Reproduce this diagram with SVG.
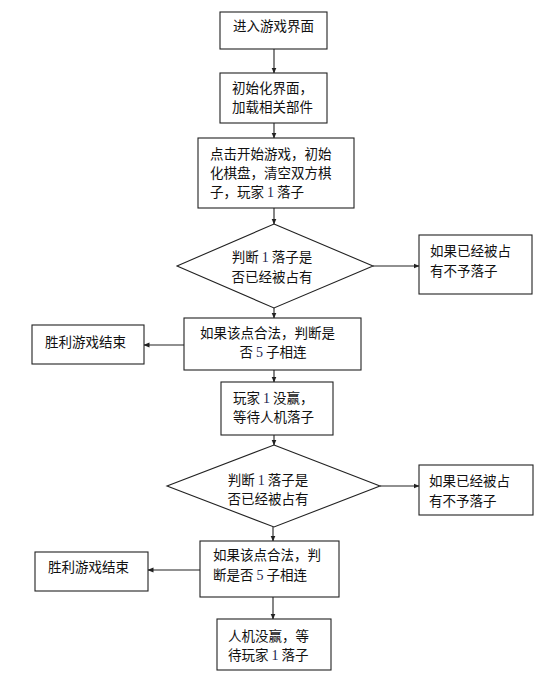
<svg xmlns="http://www.w3.org/2000/svg" width="546" height="678" viewBox="0 0 546 678">
<defs>
<style>
.box{fill:#fff;stroke:#222;stroke-width:1.1}
.t{font-family:"Noto Sans CJK SC","Noto Sans CJK JP",sans-serif;font-size:13.5px;fill:#111}
.n{font-family:"Liberation Serif",serif;font-size:14px;fill:#1a2450}
.c{text-anchor:middle}
.ln{stroke:#222;stroke-width:1.1;fill:none;marker-end:url(#ah)}
</style>
<marker id="ah" markerWidth="6" markerHeight="6" refX="5.5" refY="3" orient="auto" markerUnits="userSpaceOnUse">
<path d="M0,0.5 L6,3 L0,5.5 Z" fill="#222"/>
</marker>
</defs>
<rect width="546" height="678" fill="#fff"/>
<g id="connectors">
<line class="ln" x1="274" y1="49" x2="274" y2="73"/>
<line class="ln" x1="274" y1="123" x2="274" y2="138"/>
<line class="ln" x1="274" y1="208" x2="274" y2="224"/>
<line class="ln" x1="373" y1="266" x2="419" y2="266"/>
<line class="ln" x1="274" y1="308" x2="274" y2="318"/>
<line class="ln" x1="184" y1="345" x2="144" y2="345"/>
<line class="ln" x1="274" y1="370" x2="274" y2="382"/>
<line class="ln" x1="274" y1="435" x2="274" y2="445"/>
<line class="ln" x1="380" y1="486" x2="419" y2="486"/>
<line class="ln" x1="273" y1="527" x2="273" y2="541"/>
<line class="ln" x1="200" y1="570" x2="148" y2="570"/>
<line class="ln" x1="273" y1="597" x2="273" y2="619"/>
</g>
<g id="n1">
<rect class="box" x="220" y="12" width="107" height="37"/>
<text class="t c" x="273.5" y="31">进入游戏界面</text>
</g>
<g id="n2">
<rect class="box" x="220" y="73" width="107" height="50"/>
<text class="t" x="232" y="93">初始化界面，</text>
<text class="t" x="232" y="112">加载相关部件</text>
</g>
<g id="n3">
<rect class="box" x="198" y="138" width="156" height="70"/>
<text class="t" x="210" y="159">点击开始游戏，初始</text>
<text class="t" x="210" y="178">化棋盘，清空双方棋</text>
<text class="t" x="210" y="197">子，玩家 <tspan class="n">1</tspan> 落子</text>
</g>
<g id="d1">
<polygon class="box" points="274,224 373,266 274,308 177,266"/>
<text class="t c" x="272" y="262">判断 <tspan class="n">1</tspan> 落子是</text>
<text class="t c" x="272" y="282">否已经被占有</text>
</g>
<g id="r1">
<rect class="box" x="419" y="235" width="113" height="59"/>
<text class="t" x="430" y="256">如果已经被占</text>
<text class="t" x="430" y="276">有不予落子</text>
</g>
<g id="n4">
<rect class="box" x="184" y="318" width="177" height="52"/>
<text class="t" x="200" y="338">如果该点合法，判断是</text>
<text class="t c" x="273" y="357">否 <tspan class="n">5</tspan> 子相连</text>
</g>
<g id="l1">
<rect class="box" x="32" y="325" width="112" height="39"/>
<text class="t" x="45" y="347">胜利游戏结束</text>
</g>
<g id="n5">
<rect class="box" x="221" y="382" width="112" height="53"/>
<text class="t" x="233" y="403">玩家 <tspan class="n">1</tspan> 没赢，</text>
<text class="t" x="233" y="422">等待人机落子</text>
</g>
<g id="d2">
<polygon class="box" points="274,445 380,486 274,527 167,486"/>
<text class="t c" x="268" y="485">判断 <tspan class="n">1</tspan> 落子是</text>
<text class="t c" x="268" y="504">否已经被占有</text>
</g>
<g id="r2">
<rect class="box" x="419" y="465" width="114" height="50"/>
<text class="t" x="429" y="486">如果已经被占</text>
<text class="t" x="429" y="506">有不予落子</text>
</g>
<g id="n6">
<rect class="box" x="200" y="541" width="139" height="56"/>
<text class="t" x="213" y="560">如果该点合法，判</text>
<text class="t" x="213" y="580">断是否 <tspan class="n">5</tspan> 子相连</text>
</g>
<g id="l2">
<rect class="box" x="35" y="552" width="113" height="39"/>
<text class="t" x="48" y="572">胜利游戏结束</text>
</g>
<g id="n7">
<rect class="box" x="217" y="619" width="114" height="51"/>
<text class="t" x="228" y="641">人机没赢，等</text>
<text class="t" x="228" y="660">待玩家 <tspan class="n">1</tspan> 落子</text>
</g>
</svg>
